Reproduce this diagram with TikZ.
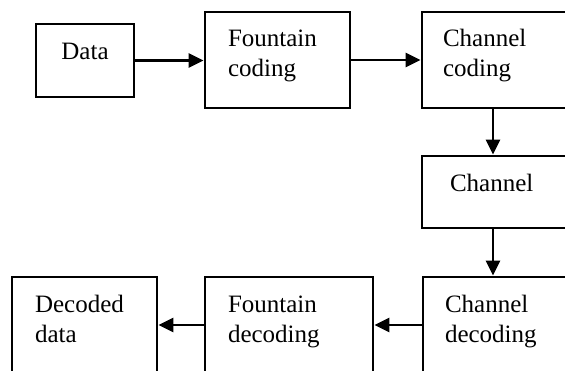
\documentclass[tikz,border=0pt]{standalone}
\usepackage{fontspec}
\setmainfont{Liberation Serif}
\usetikzlibrary{arrows.meta}
\begin{document}
\begin{tikzpicture}[x=1pt,y=-1pt,
  box/.style={draw=black, line width=2.8pt, inner ysep=0pt,
    font=\fontsize{25}{29.5}\selectfont},
  arr/.style={line width=2.6pt, -{Triangle[length=15pt,width=14pt]}}]
\useasboundingbox (0,0) rectangle (565,371);
\clip (0,0) rectangle (565,371);
% top row
\node[box, align=center, inner xsep=0pt, text width=98pt, text height=36pt, text depth=37pt] (data) at (85,60.5) {Data};
\node[box, align=left, inner xsep=23pt, text width=99pt, text height=35pt, text depth=61pt] (fc) at (277.5,60) {Fountain\\coding};
\node[box, align=left, inner xsep=21pt, text width=106pt, text height=35pt, text depth=61pt] (cc) at (496,60) {Channel\\coding};
% middle
\node[box, align=left, inner xsep=28pt, text width=92pt, text height=36pt, text depth=36pt] (ch) at (496,192) {Channel};
% bottom row
\node[box, align=left, inner xsep=22pt, text width=103pt, text height=36pt, text depth=60pt] (cd) at (496.5,325) {Channel\\decoding};
\node[box, align=left, inner xsep=23pt, text width=122pt, text height=36pt, text depth=60pt] (fd) at (289,325) {Fountain\\decoding};
\node[box, align=left, inner xsep=23pt, text width=99pt, text height=36pt, text depth=60pt] (dd) at (84.5,325) {Decoded\\data};
% connectors
\draw[arr] (data.east) -- (fc.west |- data.east);
\draw[arr] (fc.east) -- (cc.west |- fc.east);
\draw[arr] ([xshift=-3pt]cc.south) -- ([xshift=-3pt]ch.north);
\draw[arr] ([xshift=-3pt]ch.south) -- ([xshift=-3.5pt]cd.north);
\draw[arr] (cd.west) -- (fd.east |- cd.west);
\draw[arr] (fd.west) -- (dd.east |- fd.west);
\end{tikzpicture}
\end{document}
